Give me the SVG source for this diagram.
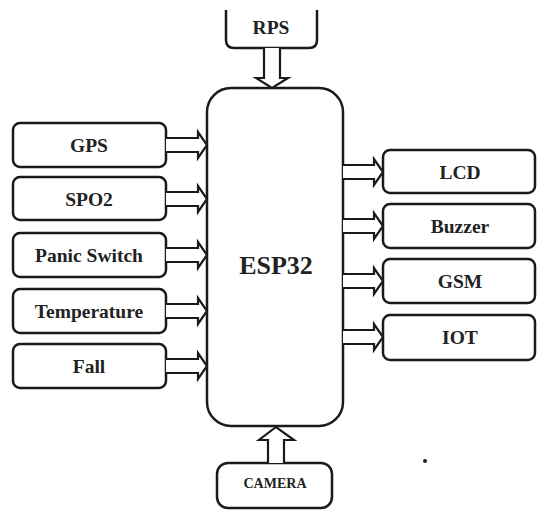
<svg xmlns="http://www.w3.org/2000/svg" width="537" height="510" viewBox="0 0 537 510">
<style>
.box{fill:#fff;stroke:#1a1a1a;stroke-width:2.5}
.lbl{font-family:"Liberation Serif","Times New Roman",serif;font-weight:bold;fill:#222;text-anchor:middle;dominant-baseline:central;font-size:19.5px}
.arr{fill:#fff;stroke:#1a1a1a;stroke-width:2.2;stroke-linejoin:miter}
</style>
<rect width="537" height="510" fill="#fff"/>
<g id="rps">
<path class="box" d="M226,10 V40 Q226,48 234,48 H309 Q317,48 317,40 V10"/>
<text class="lbl" x="271" y="27">RPS</text>
</g>
<g id="esp32">
<rect class="box" x="207" y="88" width="136" height="338" rx="24"/>
<text class="lbl" x="276" y="265" style="font-size:26px">ESP32</text>
</g>
<g id="gps"><rect class="box" x="13" y="123" width="153" height="44" rx="7"/><text class="lbl" x="89" y="145">GPS</text></g>
<g id="spo2"><rect class="box" x="13" y="177" width="153" height="43" rx="7"/><text class="lbl" x="89" y="199">SPO2</text></g>
<g id="panic"><rect class="box" x="13" y="233" width="153" height="44" rx="7"/><text class="lbl" x="89" y="255">Panic Switch</text></g>
<g id="temp"><rect class="box" x="13" y="289" width="153" height="44" rx="7"/><text class="lbl" x="89" y="311">Temperature</text></g>
<g id="fall"><rect class="box" x="13" y="344" width="153" height="44" rx="7"/><text class="lbl" x="89" y="366">Fall</text></g>
<g id="lcd"><rect class="box" x="383" y="150" width="152" height="43" rx="7"/><text class="lbl" x="460" y="172">LCD</text></g>
<g id="buzzer"><rect class="box" x="383" y="204" width="152" height="44" rx="7"/><text class="lbl" x="460" y="226">Buzzer</text></g>
<g id="gsm"><rect class="box" x="383" y="259" width="152" height="44" rx="7"/><text class="lbl" x="460" y="281">GSM</text></g>
<g id="iot"><rect class="box" x="383" y="315" width="152" height="45" rx="7"/><text class="lbl" x="460" y="337">IOT</text></g>
<g id="camera">
<rect class="box" x="217" y="463" width="115" height="45" rx="11"/>
<text class="lbl" x="275" y="483" style="font-size:14px">CAMERA</text>
</g>
<g id="connectors">
<path class="arr" d="M264,48 V78 H256 L272,88 L288,78 H280 V48"/>
<path class="arr" d="M268,463 V440 H259 L276,427 L294,440 H284 V463"/>
<path class="arr" d="M166,138 H198 V132 L207,145 L198,158 V152 H166"/>
<path class="arr" d="M166,192 H198 V186 L207,199 L198,212 V206 H166"/>
<path class="arr" d="M166,248 H198 V242 L207,255 L198,268 V262 H166"/>
<path class="arr" d="M166,304 H198 V298 L207,311 L198,324 V318 H166"/>
<path class="arr" d="M166,359 H198 V353 L207,366 L198,379 V373 H166"/>
<path class="arr" d="M343,165 H374 V159 L383,172 L374,185 V179 H343"/>
<path class="arr" d="M343,219 H374 V213 L383,226 L374,239 V233 H343"/>
<path class="arr" d="M343,274 H374 V268 L383,281 L374,294 V288 H343"/>
<path class="arr" d="M343,330 H374 V324 L383,337 L374,350 V344 H343"/>
</g>
<circle cx="425" cy="461" r="2" fill="#222"/>
</svg>
